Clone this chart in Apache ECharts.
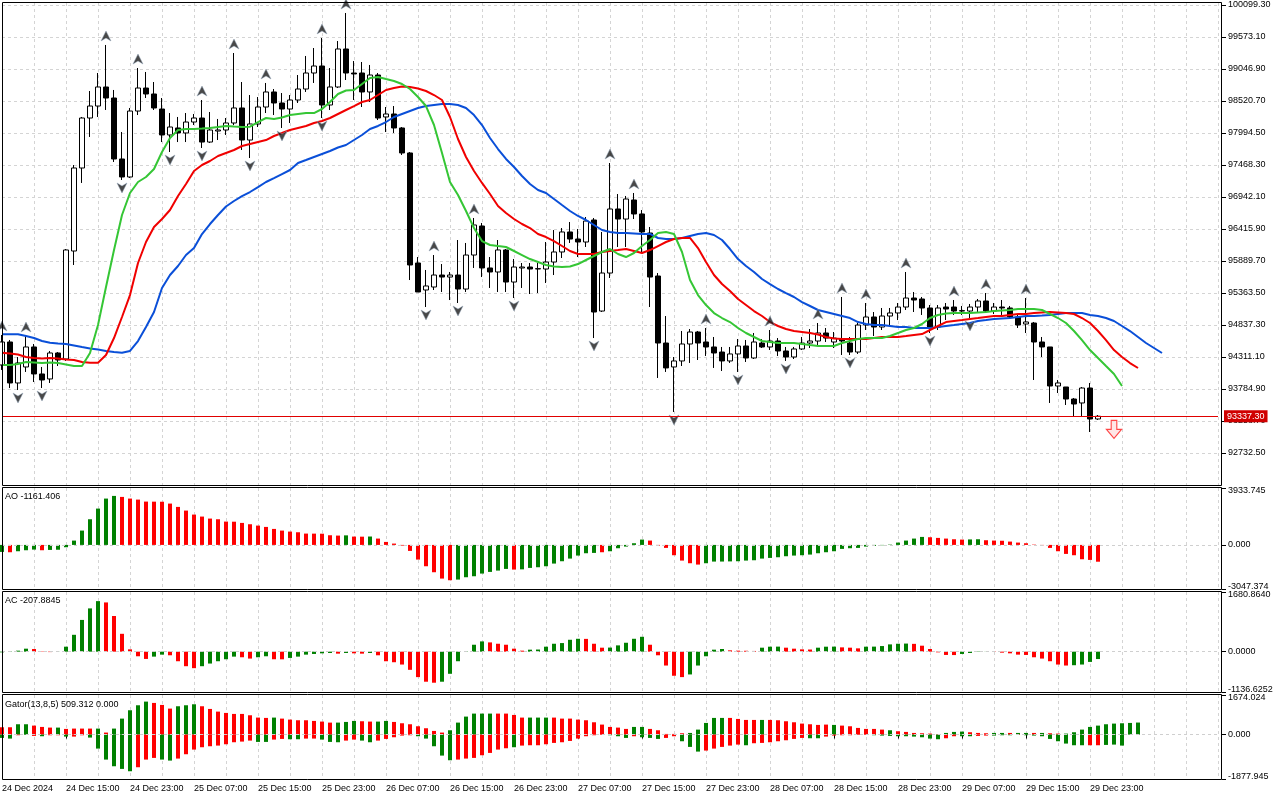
<!DOCTYPE html>
<html>
<head>
<meta charset="utf-8">
<script src="https://cdn.jsdelivr.net/npm/echarts@6/dist/echarts.min.js"></script>
<style>html,body{margin:0;padding:0;background:#fff;}#c{width:1280px;height:800px;}</style>
</head>
<body>
<div id="c"></div>
<script>
// ---------- categories (H1 bars from 24 Dec 2024 07:00) ----------
const categories = [];
for (let k = 0; k < 153; k++) {
  const h = 7 + k, d = 24 + Math.floor(h / 24), hh = h % 24;
  categories.push(d + ' Dec ' + String(hh).padStart(2, '0') + ':00');
}
const lastBar = 137;
const firstLabel = '24 Dec 2024';

// ---------- price tick labels ----------
const priceTicks = [92732.5, 93258.7, 93784.9, 94311.1, 94837.3, 95363.5, 95889.7, 96415.9, 96942.1, 97468.3, 97994.5, 98520.7, 99046.9, 99573.1, 100099.3];
const priceMin = 92206.3, priceMax = 100132.2, priceStep = 526.2;
const bidPrice = 93337.3;

// ---------- OHLC ----------
const openP = [
94180,94558,93884,94147,94476,94032,93950,94377,94278,96054,
97419,98241,98438,98751,98570,97567,97271,98356,98734,98636,
98389,97962,98077,97995,98175,98241,97846,98027,98044,98159,
98406,97879,98143,98422,98669,98488,98389,98537,98718,98981,
99096,98455,98751,99376,98981,98981,98669,98948,98258,98307,
98077,97666,95857,95413,95462,95659,95626,95659,95429,95988,
96465,95775,95709,96071,95544,95775,95791,95758,95758,95873,
96038,96367,96251,96202,96564,95067,95692,96745,96580,96893,
96663,96350,95643,94541,94147,94246,94525,94722,94558,94476,
94393,94246,94361,94492,94295,94541,94476,94574,94410,94311,
94443,94541,94574,94706,94558,94607,94541,94393,94837,94969,
94804,94985,95035,95133,95281,95265,95117,94804,95133,95133,
95067,95067,95133,95232,95067,95133,95117,94969,94854,94870,
94558,94476,93834,93818,93620,93555,93801,93292];
const closeP = [
94558,93884,94213,94476,94032,93933,94377,94262,96071,97419,
98241,98438,98751,98570,97567,97271,98356,98734,98636,98406,
97962,98093,97995,98175,98241,97846,98044,98044,98159,98406,
97879,98143,98422,98669,98488,98389,98537,98718,98981,99096,
98455,98751,99376,98981,98965,98669,98948,98241,98307,98077,
97666,95824,95380,95479,95659,95626,95659,95429,95988,96482,
95775,95709,96071,95544,95791,95791,95758,95765,95873,96038,
96367,96251,96202,96547,95051,95692,96745,96580,96909,96663,
96367,95626,94541,94131,94246,94525,94722,94541,94476,94377,
94246,94361,94492,94295,94558,94476,94574,94410,94311,94443,
94541,94574,94706,94623,94623,94574,94393,94837,94969,94804,
94985,95035,95133,95281,95248,95117,94804,95117,95100,95067,
95074,95133,95232,95067,95133,95117,94969,94837,94887,94558,
94476,93834,93884,93620,93538,93801,93292,93337.3];
const highP = [
94673,94591,94311,94656,94525,94147,94410,94393,96087,97468,
98258,98685,98981,99442,98702,98011,98406,99063,98998,98833,
98570,98323,98258,98323,98307,98537,98340,98225,98241,99310,
98833,98619,98586,98817,98718,98652,98619,98948,99261,99392,
99557,99063,99507,99968,99178,99162,99113,98981,98422,98438,
98093,97682,95955,95742,95988,95840,95709,96235,96186,96597,
96515,95955,96235,96087,95923,95857,95857,95857,96202,96399,
96432,96531,96416,96613,96597,96367,97501,96991,96959,97008,
96728,96449,95692,94985,94311,94739,94771,94739,94788,94640,
94476,94476,94607,94591,94706,94607,94755,94623,94476,94476,
94640,94771,94870,94788,94722,95298,94640,94870,95199,95051,
95117,95117,95199,95709,95380,95298,95166,95166,95199,95248,
95150,95183,95265,95363,95199,95248,95150,95002,95281,94887,
94640,94476,93933,93818,93637,93818,93884,93357];
const lowP = [
94098,93801,93768,94065,93900,93801,93884,94163,94246,95824,
97173,97929,98258,98373,97518,97222,97255,98290,98570,98373,
97846,97682,97846,97846,98126,97748,97830,97879,97962,98126,
97715,97583,98093,98323,98290,98077,98159,98488,98669,98817,
98241,98373,98734,98866,98537,98422,98504,98208,98011,97995,
97633,95577,95380,95133,95413,95380,95248,95199,95380,95775,
95626,95446,95380,95380,95281,95446,95347,95363,95528,95659,
95939,96186,95955,96120,94623,95051,95610,96120,96120,96580,
96021,95133,93966,94065,93407,94163,94213,94262,94328,94131,
94081,94213,94065,94229,94278,94459,94426,94328,94246,94278,
94426,94459,94508,94558,94459,94344,94344,94361,94755,94656,
94755,94837,94919,95084,95051,95002,94706,94755,94919,95002,
95002,94952,95051,95035,95018,95002,94952,94788,94706,93933,
94311,93555,93719,93522,93324,93324,93078,93275];

// ---------- Alligator (shifted lines as drawn) ----------
const jaw = [
94684,94684,94684,94656,94623,94574,94546,94533,94525,94500,
94475,94451,94434,94410,94393,94382,94410,94574,94804,95051,
95446,95659,95807,95988,96103,96333,96498,96646,96786,96876,
96958,97024,97106,97189,97254,97320,97386,97501,97550,97600,
97649,97698,97756,97797,97879,97962,98060,98110,98175,98258,
98307,98356,98405,98438,98455,98471,98471,98455,98405,98290,
98126,97912,97731,97567,97435,97287,97156,97057,97008,96909,
96810,96712,96630,96564,96482,96399,96366,96350,96350,96342,
96334,96334,96268,96251,96251,96268,96301,96334,96350,96317,
96235,96087,95922,95807,95709,95594,95511,95429,95363,95298,
95215,95150,95084,95051,95018,94985,94952,94886,94854,94837,
94837,94821,94804,94804,94788,94788,94788,94804,94821,94837,
94854,94870,94903,94919,94936,94944,94952,94969,94985,94985,
94993,95002,95018,95034,95034,95034,95002,94985,94952,94903,
94821,94738,94640,94541,94459,94377];
const teeth = [
94382,94368,94352,94311,94295,94286,94295,94286,94270,94262,
94229,94217,94217,94344,94623,94969,95330,95857,96202,96449,
96580,96728,96958,97156,97370,97468,97534,97616,97666,97715,
97781,97813,97846,97879,97945,97994,98044,98077,98110,98159,
98192,98241,98307,98373,98438,98504,98537,98619,98702,98734,
98759,98751,98726,98685,98619,98537,98258,97896,97600,97370,
97173,96991,96794,96679,96580,96498,96432,96334,96284,96218,
96136,96054,96005,96005,96005,96038,96054,96070,96087,96054,
96021,96070,96136,96202,96251,96268,96268,96103,95873,95659,
95511,95396,95265,95166,95067,94985,94886,94821,94771,94738,
94722,94706,94681,94640,94615,94607,94607,94607,94607,94623,
94640,94640,94640,94656,94673,94689,94755,94821,94886,94903,
94919,94936,94952,94969,94985,94985,95002,95018,95018,95034,
95043,95051,95043,95034,95018,94952,94870,94738,94590,94426,
94311,94212,94130];
const lips = [
94180,94180,94196,94229,94221,94212,94221,94212,94188,94163,
94163,94377,94837,95462,96070,96646,97008,97189,97271,97402,
97682,97912,98044,98060,98060,98068,98077,98093,98110,98101,
98093,98098,98175,98241,98225,98249,98290,98307,98323,98323,
98389,98504,98636,98693,98702,98800,98899,98915,98882,98850,
98800,98718,98586,98438,98126,97666,97189,96975,96712,96432,
96218,96153,96136,96120,96054,95988,95922,95873,95824,95799,
95791,95799,95840,95906,95972,96038,96087,96005,95955,96021,
96136,96235,96350,96366,96334,96038,95577,95330,95166,95034,
94952,94886,94788,94706,94640,94574,94558,94541,94541,94541,
94525,94508,94492,94492,94492,94541,94574,94607,94623,94623,
94623,94656,94706,94755,94788,94854,94952,95002,95026,95034,
95034,95034,95043,95051,95067,95076,95084,95100,95100,95100,
95084,95018,94952,94870,94738,94590,94426,94295,94163,94032,
93834];

// ---------- Fractals (bar indices) and signal ----------
const fractalUp = [0,3,13,17,25,29,33,40,43,54,59,76,79,88,96,102,105,108,113,119,123,128];
const fractalDown = [2,5,15,21,25,31,35,40,53,57,64,74,84,92,98,106,116,121];
const sellSignal = [[139, 93120]];

// ---------- Awesome Oscillator ----------
const AO_MAX = 3933.745, AO_MIN = -3047.374;
const aoValues = [
-484,-507,-438,-369,-323,-369,-346,-334,-161,299,
991,1774,2511,3203,3387,3318,3203,3133,2995,2990,
2985,2857,2627,2373,2097,1959,1820,1774,1613,1605,
1521,1429,1336,1244,1106,991,922,875,783,780,
775,668,645,660,576,570,580,438,207,92,
-46,-415,-1014,-1475,-1889,-2327,-2442,-2396,-2235,-2166,
-1981,-1866,-1774,-1659,-1705,-1690,-1590,-1544,-1475,-1290,
-1129,-945,-737,-576,-553,-507,-438,-230,-115,115,
369,300,-46,-207,-714,-1083,-1267,-1359,-1267,-1152,
-1150,-1140,-1129,-1083,-1060,-945,-899,-853,-783,-737,
-714,-668,-576,-507,-438,-276,-230,-207,-115,-69,
-23,23,161,300,438,553,530,484,438,392,
369,380,392,323,300,288,230,161,115,23,
-23,-207,-438,-622,-714,-991,-1037,-1161.406];
const aoColors = ('grgggrgggg'+'gggggrrrrr'+'rrrrrrrrrr'+'rrrrrrrrrr'+'rrrgrrgrrr'+'rrrrrrrggg'+'ggggrggggg'+'gggggrgggg'+'grrrrrrrgg'+'gggggggggg'+'gggggggggg'+'ggggggrrrr'+'rggrrrrrrr'+'rrrrrrrr').split('');

// ---------- Accelerator Oscillator ----------
const AC_MAX = 1680.864, AC_MIN = -1136.6252;
const acValues = [
-19,9,28,84,74,-9,-12,3,140,475,
894,1219,1424,1387,1005,503,65,-130,-205,-140,
-84,-102,-270,-410,-465,-410,-335,-270,-214,-140,
-158,-195,-158,-130,-214,-216,-177,-140,-84,-65,
-47,-37,-56,-37,-47,-56,-37,-102,-270,-298,
-363,-512,-717,-847,-875,-847,-624,-270,-9,195,
289,261,223,195,84,28,56,60,140,223,
242,335,363,360,223,112,115,177,251,363,
419,195,-102,-391,-679,-717,-642,-391,-130,56,
75,37,28,25,20,112,140,142,112,84,
65,60,112,140,142,121,112,93,140,142,
158,205,223,228,220,168,75,-19,-93,-96,
-65,-37,-9,3,-9,-28,-47,-84,-93,-158,
-195,-270,-363,-391,-382,-363,-289,-207.8845];
const acColors = ('ggggrrrggg'+'gggrrrrrrg'+'grrrrggggg'+'rrggrrgggg'+'ggrgrrgrrr'+'rrrrrggggg'+'grrrrrgggg'+'gggrrrgggg'+'grrrrrgggg'+'grrrrgggrr'+'rrgggrrrgg'+'ggggrrrrrr'+'ggggrrrrrr'+'rrrrgggg').split('');

// ---------- Gator Oscillator ----------
const GT_MAX = 1674.024, GT_MIN = -1877.945;
const gatorUp = [
310,310,437,437,380,324,296,296,240,254,
254,254,254,85,254,676,1029,1240,1395,1339,
1254,1099,1198,1240,1282,1198,1085,972,916,874,
874,817,719,705,719,676,634,606,606,578,
550,507,507,535,578,564,550,550,578,535,
479,437,352,268,155,85,183,507,761,888,
888,888,888,888,831,719,719,719,719,719,
676,676,634,606,521,423,324,296,240,324,
324,240,183,28,28,56,70,211,493,705,
705,705,662,620,620,620,620,606,564,521,
465,437,409,423,409,380,352,282,240,240,
211,183,141,113,70,56,42,14,70,113,
127,99,70,56,70,70,70,70,70,70,
70,56,42,42,99,211,324,380,437,465,
479,493,509.312];
const gatorUpColors = ('rrggrrrgrr'+'rrgrgggggr'+'rrgggrrrrr'+'rrrrgrrrrr'+'rrgggrrggr'+'rrrrrrgggg'+'ggrrrrgggr'+'rrrrrrrrrg'+'grrrrrgggg'+'grrrrgrrrr'+'rrrrgrrrrr'+'rgrrrrrrgg'+'grrrggrggr'+'grrggggggg'+'ggg').split('');
const gatorDown = [
-141,-169,-28,-14,-56,-70,-28,-28,-85,-85,
-28,-127,-592,-1057,-1339,-1451,-1550,-1381,-1057,-986,
-1057,-1099,-1014,-831,-634,-535,-493,-465,-409,-324,
-296,-254,-310,-310,-211,-183,-197,-197,-169,-169,
-211,-310,-324,-254,-211,-254,-324,-254,-183,-113,
-42,-28,-70,-169,-493,-888,-1085,-1057,-1014,-986,
-874,-775,-634,-578,-535,-465,-451,-451,-409,-352,
-324,-268,-169,-70,-28,-14,-28,-70,-141,-70,
-113,-141,-183,-141,-70,-282,-521,-719,-676,-592,
-521,-465,-423,-451,-366,-352,-324,-282,-240,-183,
-141,-155,-155,-85,-42,-28,-28,-14,-14,-28,
-42,-56,-70,-70,-85,-113,-169,-197,-155,-70,
-70,-70,-56,-42,-42,-28,-28,-14,-28,-42,
-70,-183,-282,-380,-451,-451,-451,-451,-437,-423,
-465];
const gatorDownColors = ('ggrgrgrrgr'+'rggggggrrr'+'ggrrrrrrrr'+'rrggrrggrr'+'gggrrggrrr'+'rrgggggrrr'+'rrrrgrrrrr'+'rrrrrrgggr'+'gggrrgggrr'+'rrrgrrrrrr'+'rggrrrrrrg'+'ggggggggrr'+'ggrrgggrgg'+'ggggggrrgg'+'g').split('');

// ---------- styles ----------
const GREEN = '#008000', RED = '#ff0000';
const FONT = '"Liberation Sans", Arial, sans-serif';
const gridDash = { color: '#d4d4d4', type: [3, 3], width: 1 };
const L = 2, W = 1216;
const panels = [
  { top: 3, height: 482 },
  { top: 488, height: 101 },
  { top: 592, height: 100 },
  { top: 695, height: 84 }
];

function colorize(vals, cols) {
  return vals.map((v, i) => ({ value: v, itemStyle: { color: cols[i] === 'g' ? GREEN : RED } }));
}
function subAxisLabel(min, max, dec) {
  return {
    customValues: [min, 0, max],
    color: '#000', fontSize: 9, fontFamily: FONT, margin: 6,
    formatter: function (v) {
      const s = Number(v).toFixed(dec);
      if (v >= max - 1e-6) return '{t|' + s + '}';
      if (v <= min + 1e-6) return '{b|' + s + '}';
      return s;
    },
    rich: { t: { padding: [6, 0, 0, 0], fontSize: 9, fontFamily: FONT, color: '#000' },
            b: { padding: [0, 0, 4, 0], fontSize: 9, fontFamily: FONT, color: '#000' } }
  };
}
const zeroLine = {
  silent: true, symbol: 'none', animation: false, label: { show: false },
  lineStyle: { color: '#cfcfcf', type: [3, 3], width: 1 },
  data: [{ yAxis: 0 }]
};

const xAxes = panels.map((p, k) => ({
  type: 'category', gridIndex: k, data: categories, boundaryGap: false,
  axisLine: { show: false },
  axisTick: k === 3 ? { show: true, length: 4, lineStyle: { color: '#000' },
      interval: (idx) => idx % 8 === 0 && idx <= lastBar } : { show: false },
  axisLabel: k === 3 ? {
      show: true, color: '#000', fontSize: 9, fontFamily: FONT, align: 'left', margin: 5,
      interval: (idx) => idx % 8 === 0 && idx <= lastBar,
      formatter: (val, idx) => (idx === 0 ? firstLabel : val)
    } : { show: false },
  splitLine: { show: true, interval: 3, lineStyle: gridDash }
}));

const yAxes = [
  {
    type: 'value', gridIndex: 0, position: 'right', offset: 4, scale: true,
    min: priceMin, max: priceMax, interval: priceStep,
    axisLine: { show: false },
    axisTick: { show: true, length: 4, lineStyle: { color: '#000' }, customValues: priceTicks },
    axisLabel: { color: '#000', fontSize: 9, fontFamily: FONT, margin: 6, customValues: priceTicks,
      formatter: (v) => Number(v).toFixed(2) },
    splitLine: { show: true, lineStyle: gridDash }
  },
  { type: 'value', gridIndex: 1, position: 'right', offset: 4, min: AO_MIN, max: AO_MAX,
    axisLine: { show: false },
    axisTick: { show: true, length: 4, lineStyle: { color: '#000' }, customValues: [AO_MIN, 0, AO_MAX] },
    axisLabel: subAxisLabel(AO_MIN, AO_MAX, 3), splitLine: { show: false } },
  { type: 'value', gridIndex: 2, position: 'right', offset: 4, min: AC_MIN, max: AC_MAX,
    axisLine: { show: false },
    axisTick: { show: true, length: 4, lineStyle: { color: '#000' }, customValues: [AC_MIN, 0, AC_MAX] },
    axisLabel: subAxisLabel(AC_MIN, AC_MAX, 4), splitLine: { show: false } },
  { type: 'value', gridIndex: 3, position: 'right', offset: 4, min: GT_MIN, max: GT_MAX,
    axisLine: { show: false },
    axisTick: { show: true, length: 4, lineStyle: { color: '#000' }, customValues: [GT_MIN, 0, GT_MAX] },
    axisLabel: subAxisLabel(GT_MIN, GT_MAX, 3), splitLine: { show: false } }
];

const upArrow = 'path://M5,0 L10,10 L5,7 L0,10 Z';
const downArrow = 'path://M0,0 L5,3 L10,0 L5,10 Z';
const sellArrow = 'path://M5,0 L11,0 L11,9 L16,9 L8,18 L0,9 L5,9 Z';

const frames = [
  [2.5, 2.5, 1219, 483],
  [2.5, 487.5, 1219, 102],
  [2.5, 591.5, 1219, 101],
  [2.5, 694.5, 1219, 85]
].map(r => ({ type: 'rect', silent: true, z: 100,
  shape: { x: r[0], y: r[1], width: r[2], height: r[3] },
  style: { fill: 'none', stroke: '#000', lineWidth: 1 } }));

const labels = [
  ['AO -1161.406', 492], ['AC -207.8845', 596], ['Gator(13,8,5) 509.312 0.000', 700]
].map(t => ({ type: 'text', left: 5, top: t[1], silent: true, z: 101,
  style: { text: t[0], fill: '#000', font: '9px ' + FONT } }));

const option = {
  animation: false,
  backgroundColor: '#ffffff',
  textStyle: { fontFamily: FONT },
  grid: panels.map(p => ({ left: L, width: W, top: p.top, height: p.height,
    containLabel: false, outerBoundsMode: 'none', show: false })),
  xAxis: xAxes,
  yAxis: yAxes,
  graphic: frames.concat(labels),
  series: [
    {
      type: 'candlestick', xAxisIndex: 0, yAxisIndex: 0, barWidth: 5, z: 2,
      data: openP.map((o, i) => [o, closeP[i], lowP[i], highP[i]]),
      itemStyle: { color: '#ffffff', color0: '#000000', borderColor: '#000000', borderColor0: '#000000', borderWidth: 1 },
      markLine: {
        silent: true, symbol: 'none', animation: false, z: 10,
        lineStyle: { color: '#e00000', type: 'solid', width: 1 },
        label: { show: true, position: 'end', distance: 6, formatter: bidPrice.toFixed(2),
          color: '#ffffff', backgroundColor: '#d00000', padding: [2, 3, 1, 3], fontSize: 9, fontFamily: FONT },
        data: [{ yAxis: bidPrice }]
      }
    },
    { type: 'line', xAxisIndex: 0, yAxisIndex: 0, data: jaw, showSymbol: false, z: 3,
      lineStyle: { color: '#0a4fd8', width: 2 } },
    { type: 'line', xAxisIndex: 0, yAxisIndex: 0, data: teeth, showSymbol: false, z: 3,
      lineStyle: { color: '#f00000', width: 2 } },
    { type: 'line', xAxisIndex: 0, yAxisIndex: 0, data: lips, showSymbol: false, z: 3,
      lineStyle: { color: '#35c635', width: 2 } },
    { type: 'scatter', xAxisIndex: 0, yAxisIndex: 0, z: 4, symbol: upArrow, symbolSize: [10, 10],
      symbolOffset: [0, -9], data: fractalUp.map(i => [i, highP[i]]),
      itemStyle: { color: '#1a1a1a', borderColor: '#8fa3b8', borderWidth: 0.6 } },
    { type: 'scatter', xAxisIndex: 0, yAxisIndex: 0, z: 4, symbol: downArrow, symbolSize: [10, 10],
      symbolOffset: [0, 8], data: fractalDown.map(i => [i, lowP[i]]),
      itemStyle: { color: '#1a1a1a', borderColor: '#8fa3b8', borderWidth: 0.6 } },
    { type: 'scatter', xAxisIndex: 0, yAxisIndex: 0, z: 5, symbol: sellArrow, symbolSize: [15, 18],
      data: sellSignal, itemStyle: { color: '#ffe0e0', borderColor: '#ff1a1a', borderWidth: 1.2 } },
    { type: 'bar', xAxisIndex: 1, yAxisIndex: 1, barWidth: 4, data: colorize(aoValues, aoColors), markLine: zeroLine },
    { type: 'bar', xAxisIndex: 2, yAxisIndex: 2, barWidth: 4, data: colorize(acValues, acColors), markLine: zeroLine },
    { type: 'bar', xAxisIndex: 3, yAxisIndex: 3, barWidth: 4, barGap: '-100%', data: colorize(gatorUp, gatorUpColors), markLine: zeroLine },
    { type: 'bar', xAxisIndex: 3, yAxisIndex: 3, barWidth: 4, barGap: '-100%', data: colorize(gatorDown, gatorDownColors) }
  ]
};

const chart = echarts.init(document.getElementById('c'), null, { renderer: 'canvas', width: 1280, height: 800 });
chart.setOption(option);
</script>
</body>
</html>
